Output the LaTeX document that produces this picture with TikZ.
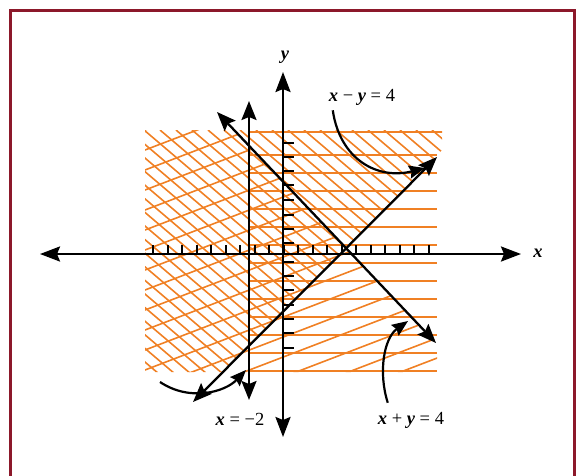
\documentclass[tikz,border=0pt]{standalone}
\usepackage{fontspec}
\setmainfont{Liberation Serif}
\usetikzlibrary{
	arrows.meta,
	positioning
}
\definecolor{naranja}{RGB}{240,128,36}
\definecolor{marco}{RGB}{140,24,42}
\newcommand{\var}[1]{{\bfseries\itshape #1}}

\begin{document}
\begin{tikzpicture}[x=1pt, y=-1pt,
  eje/.style={{Stealth[length=20pt, width=15pt, inset=3pt]}-{Stealth[length=20pt, width=15pt, inset=3pt]},
    line width=2.5pt},
  recta/.style={{Stealth[length=19pt, width=15pt, inset=3pt]}-{Stealth[length=19pt, width=15pt, inset=3pt]},
    line width=2.3pt},
  rayado/.style={draw=naranja, line width=1.6pt},
  marca/.style={line width=2pt},
  flecha/.style={-{Stealth[length=16pt, width=13pt, inset=2pt]}, line width=2.2pt},
  etiqueta/.style={font=\fontsize{18.5}{22}\selectfont, inner sep=1pt}
]
\useasboundingbox (0,0) rectangle (577,475);
% marco
\draw[marco, line width=3pt] (10,478) -- (10,10) -- (574,10) -- (574,478);

% rayado horizontal (x >= -2)
\begin{scope}
  \clip (249,128) rectangle (442,373);
  \draw[rayado] (249,132) -- (445,132);
  \foreach \y in {155,173,...,371}
    \draw[rayado] (249,\y) -- (437,\y);
\end{scope}
% rayado descendente (sobre x - y = 4)
\begin{scope}
  \clip (145,130) -- (442,130) -- (442,150) -- (223,372) -- (145,372) -- cycle;
  \foreach \a in {-160,-144,...,440}
    \draw[rayado] (\a,130) -- ++(300,255);
\end{scope}
% rayado ascendente (bajo x + y = 4)
\begin{scope}
  \clip (145,130) -- (234,130) -- (437,345) -- (437,372) -- (145,372) -- cycle;
  \foreach \b in {130,150,...,500}
    \draw[rayado] (145,\b) -- ++(300,-115);
\end{scope}

% ejes
\coordinate (xizq) at (40,254);
\coordinate (xder) at (521,254);
\coordinate (yarr) at (283,72);
\coordinate (yaba) at (283,437);
\draw[eje] (xizq) -- (xder);
\draw[eje] (yaba) -- (yarr);
\foreach \t in {153,167.5,...,435}
  \draw[marca] (\t,245) -- (\t,254);
\foreach \t in {143,157,171,185,200,215,229,243,262,276,290,305,319,333,348}
  \draw[marca] (283,\t) -- (294,\t);

% rectas
\coordinate (vsup) at (249,101);
\coordinate (vinf) at (249,400);
\coordinate (suma1) at (217,112);
\coordinate (suma2) at (436,343);
\coordinate (resta1) at (193,402);
\coordinate (resta2) at (437,157);
\draw[recta] (vinf) -- (vsup);
\draw[recta] (suma1) -- (suma2);
\draw[recta] (resta1) -- (resta2);

% etiquetas
\node[etiqueta] (ly) at (285,57) {\var{y}};
\node[etiqueta] (lx) at (538,253) {\var{x}};
\node[etiqueta] (lresta) at (362,97) {\var{x} − \var{y} = 4};
\node[etiqueta] (lsuma) at (411,420) {\var{x} + \var{y} = 4};
\node[etiqueta] (lmenos) at (240,419) {\var{x} = −2};

% flechas curvas
\coordinate (presta) at (425,168);
\coordinate (psuma) at (408,321);
\coordinate (pini) at (160,382);
\coordinate (pvert) at (246,370);
\draw[flecha] ([xshift=5pt,yshift=-4pt]lresta.south west) .. controls (340,160) and (378,180) .. (presta);
\draw[flecha] ([xshift=11pt,yshift=8pt]lsuma.north west) .. controls (378,372) and (384,338) .. (psuma);
\draw[flecha] (pini) .. controls (190,402) and (225,392) .. (pvert);
\end{tikzpicture}
\end{document}
